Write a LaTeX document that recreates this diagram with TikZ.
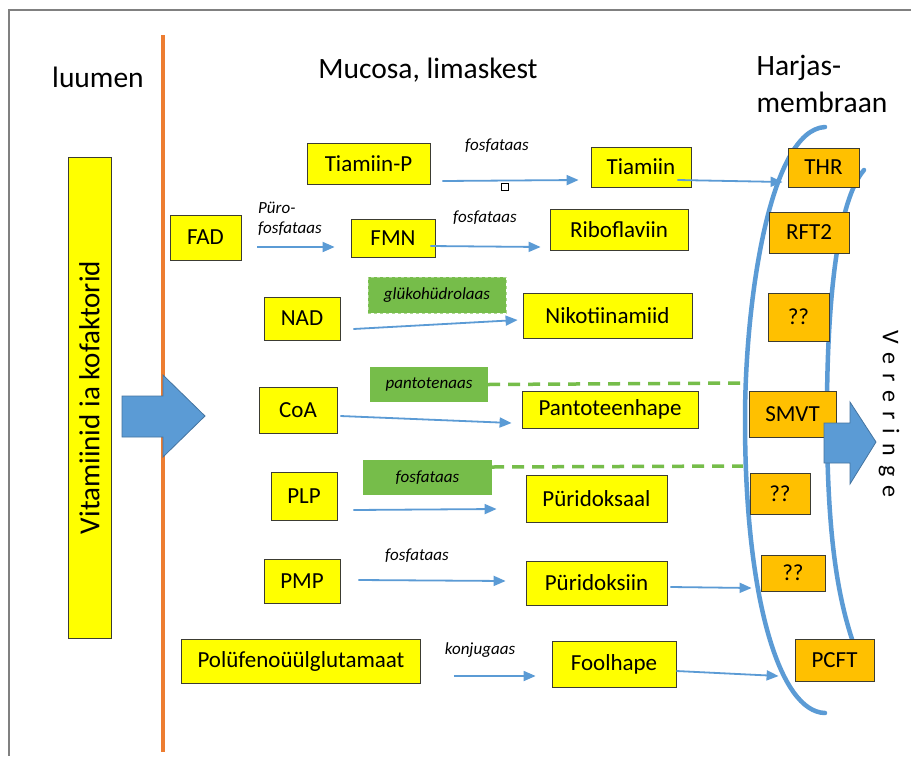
\documentclass[tikz,border=0pt]{standalone}
\usepackage{fontspec}
\setmainfont{Carlito}
\usepackage{tikz}
\usetikzlibrary{arrows.meta}

\definecolor{boxyellow}{RGB}{255,255,0}
\definecolor{carrierorange}{RGB}{255,192,0}
\definecolor{enzymegreen}{RGB}{118,189,74}
\definecolor{boxline}{RGB}{60,60,50}
\definecolor{flowblue}{RGB}{91,155,213}
\definecolor{wallorange}{RGB}{237,125,49}
\definecolor{framegray}{RGB}{128,128,128}

\begin{document}
\begin{tikzpicture}[
    x=1pt, y=-1pt,
    vitbox/.style={rectangle, draw=boxline, line width=0.8pt, fill=boxyellow, inner sep=0pt, font=\fontsize{23}{25}\selectfont},
    carrier/.style={vitbox, fill=carrierorange},
    enzyme/.style={rectangle, fill=enzymegreen, inner sep=0pt, font=\fontsize{17}{19}\selectfont\itshape},
    enzlabel/.style={inner sep=0pt, font=\fontsize{17}{20}\selectfont\itshape},
    header/.style={inner sep=0pt, font=\fontsize{29.5}{37}\selectfont},
    arrow/.style={-{Triangle[width=10pt,length=12pt]}, draw=flowblue, line width=1.8pt},
    blocked/.style={draw=enzymegreen, line width=3.5pt, dash pattern=on 12pt off 8pt},
    membrane/.style={draw=flowblue, line width=4.5pt, line cap=round},
    bigarrow/.style={fill=flowblue, draw=flowblue!75!black, line width=0.8pt}
]
\useasboundingbox[fill=white] (0,0) rectangle (911,756);

% frame and lumen wall
\draw[framegray, line width=1.6pt] (911,10) -- (9,10) -- (9,756);
\draw[wallorange, line width=4pt] (163,35) -- (163,752);

\node[header] (lumen) at (98,77) {luumen};
\node[header] (mucosa) at (428,70) {Mucosa, limaskest};
\node[header, align=left] (brush) at (822,84) {Harjas-\\membraan};

% brush border membrane
\draw[membrane] (825,127) .. controls (770,130) and (745,300) .. (745,420)
                .. controls (745,600) and (780,712) .. (825,713);
\draw[membrane] (864,170) .. controls (838,200) and (826,300) .. (827,430)
                .. controls (828,540) and (838,600) .. (855,648);

\node[vitbox, rotate=90, minimum width=481, minimum height=43, font=\fontsize{29}{31}\selectfont] (vit) at (89.5,397.5) {Vitamiinid ia kofaktorid};

% cofactors in the mucosa
\node[vitbox, minimum width=123, minimum height=41] (tiaP) at (368.5,163.5) {Tiamiin-P};
\node[vitbox, minimum width=71, minimum height=45] (fad) at (205.5,237.5) {FAD};
\node[vitbox, minimum width=84, minimum height=38] (fmn) at (393,238) {FMN};
\node[vitbox, minimum width=76, minimum height=43] (nad) at (302,318.5) {NAD};
\node[vitbox, minimum width=78, minimum height=46] (coa) at (298,410) {CoA};
\node[vitbox, minimum width=66, minimum height=48] (plp) at (304,496) {PLP};
\node[vitbox, minimum width=76, minimum height=44] (pmp) at (302,581) {PMP};
\node[vitbox, minimum width=239, minimum height=44] (polu) at (301,661) {Polüfenoüülglutamaat};

% free vitamins
\node[vitbox, minimum width=100, minimum height=40] (tia) at (641,167) {Tiamiin};
\node[vitbox, minimum width=138, minimum height=41] (ribo) at (619,229.5) {Riboflaviin};
\node[vitbox, minimum width=169, minimum height=45] (niko) at (607.5,315.5) {Nikotiinamiid};
\node[vitbox, minimum width=176, minimum height=37] (panto) at (610,409.5) {Pantoteenhape};
\node[vitbox, minimum width=141, minimum height=47] (pdal) at (596.5,498.5) {Püridoksaal};
\node[vitbox, minimum width=141, minimum height=44] (pdin) at (596.5,583) {Püridoksiin};
\node[vitbox, minimum width=124, minimum height=46] (fool) at (614,664) {Foolhape};

% transporters
\node[carrier, minimum width=71, minimum height=39] (thr) at (823.5,167.5) {THR};
\node[carrier, minimum width=80, minimum height=41] (rft) at (809,232.5) {RFT2};
\node[carrier, minimum width=61, minimum height=48] (qa) at (798.5,317) {??};
\node[carrier, minimum width=87, minimum height=46] (smvt) at (792.5,414) {SMVT};
\node[carrier, minimum width=60, minimum height=41] (qb) at (780,493.5) {??};
\node[carrier, minimum width=64, minimum height=36] (qc) at (793,573) {??};
\node[carrier, minimum width=79, minimum height=42] (pcft) at (834.5,660) {PCFT};

% enzymes
\node[enzyme, minimum width=138, minimum height=36, draw=enzymegreen!60!white, dashed, line width=0.8pt] (gluko) at (437,295) {glükohüdrolaas};
\node[enzyme, minimum width=118, minimum height=35] (pantase) at (429,384.5) {pantotenaas};
\node[enzyme, minimum width=129, minimum height=35] (fosf) at (427.5,477.5) {fosfataas};

\node[enzlabel] (l1) at (497,146) {fosfataas};
\node[draw, inner sep=0pt, minimum size=7, line width=0.6pt] (mark) at (505,187) {};
\node[enzlabel, align=left] (l2) at (290,219) {Püro-\\fosfataas};
\node[enzlabel] (l3) at (485,218) {fosfataas};
\node[enzlabel] (l4) at (417,556) {fosfataas};
\node[enzlabel] (l5) at (480,650) {konjugaas};

\draw[arrow] ([xshift=12,yshift=-17.5]tiaP.east) -- ([xshift=-12,yshift=-13]tia.west);
\draw[arrow] ([xshift=-14,yshift=-13]tia.east) -- ([xshift=-5,yshift=-14.5]thr.west);
\draw[arrow] ([xshift=16,yshift=-9.5]fad.east) -- ([xshift=-16,yshift=-9]fmn.west);
\draw[arrow] ([xshift=-5,yshift=-8]fmn.east) -- ([xshift=-9,yshift=-17.5]ribo.west);
\draw[arrow] ([xshift=13,yshift=-10.5]nad.east) -- ([xshift=-5,yshift=-4.5]niko.west);
\draw[arrow] ([xshift=3,yshift=-6]coa.east) -- ([xshift=-10,yshift=-13.5]panto.west);
\draw[arrow] ([xshift=16,yshift=-14]plp.east) -- ([xshift=-29,yshift=-10.5]pdal.west);
\draw[arrow] ([xshift=18,yshift=1]pmp.east) -- ([xshift=-20,yshift=2]pdin.west);
\draw[arrow] ([xshift=3,yshift=-4]pdin.east) -- ([xshift=-9,yshift=-15]qc.west);
\draw[arrow] ([xshift=33,yshift=-15]polu.east) -- ([xshift=-16,yshift=-12]fool.west);
\draw[arrow] ([yshift=-7]fool.east) -- ([xshift=-16,yshift=-16]pcft.west);

\coordinate (stopA) at (748,383);
\coordinate (stopB) at (743,466);
\draw[blocked] (pantase.east) -- (stopA);
\draw[blocked] ([yshift=10.5]fosf.east) -- (stopB);

% uptake and release
\draw[bigarrow] (122,396) -- (163,396) -- (163,375) -- (205,416) -- (163,457) -- (163,437) -- (122,437) -- cycle;
\draw[bigarrow] (824,423) -- (850,423) -- (850,402) -- (876,442) -- (850,484) -- (850,463) -- (824,463) -- cycle;

\node[rotate=-90, inner sep=0pt, font=\fontsize{24}{26}\selectfont\addfontfeature{LetterSpace=38}] (blood) at (889,414) {Vereringe};

\end{tikzpicture}
\end{document}
